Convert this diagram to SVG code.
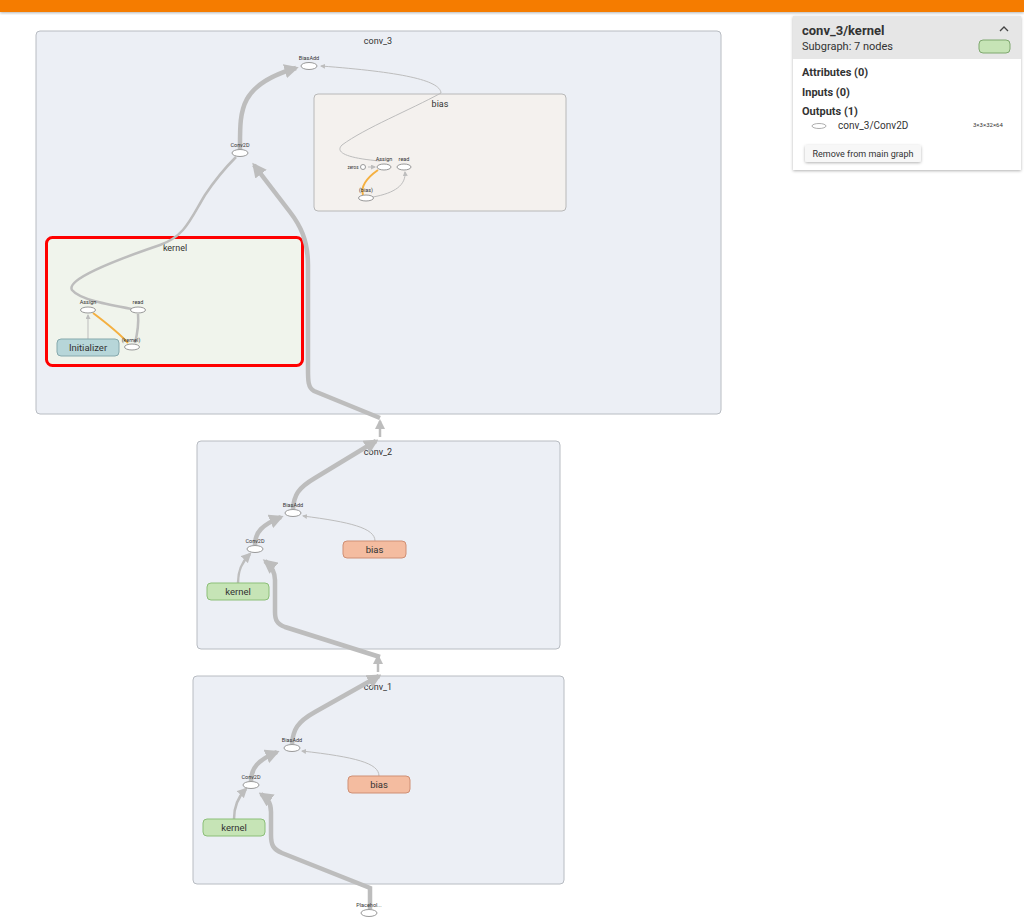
<svg xmlns="http://www.w3.org/2000/svg" width="1024" height="923" viewBox="0 0 1024 923">
<style>
text{font-family:Roboto,"Liberation Sans",sans-serif;fill:#333}
.scope{fill:#eceff5;stroke:#b8bcc2;stroke-width:1}
.title{font-size:9px;text-anchor:middle}
.op{fill:#fff;stroke:#999;stroke-width:1}
.opl{font-size:5.5px;text-anchor:middle}
.thick{fill:none;stroke:#bdbdbd;stroke-width:4.5}
.mid{fill:none;stroke:#bdbdbd;stroke-width:2.5}
.thin{fill:none;stroke:#bdbdbd;stroke-width:1}
.ref{fill:none;stroke:#f4b041;stroke-width:2}
.nl{font-size:9.5px;text-anchor:middle}
</style>
<defs>
<marker id="ab" viewBox="0 0 10 10" refX="8" refY="5" markerWidth="3.2" markerHeight="3.2" orient="auto" markerUnits="strokeWidth"><path d="M0,0L10,5L0,10z" fill="#bdbdbd"/></marker>
<marker id="am" viewBox="0 0 10 10" refX="8" refY="5" markerWidth="4" markerHeight="4" orient="auto" markerUnits="strokeWidth"><path d="M0,0L10,5L0,10z" fill="#bdbdbd"/></marker>
<marker id="as" viewBox="0 0 10 10" refX="8" refY="5" markerWidth="5" markerHeight="5" orient="auto" markerUnits="strokeWidth"><path d="M0,0L10,5L0,10z" fill="#bdbdbd"/></marker>
<filter id="sh" x="-10%" y="-10%" width="120%" height="130%"><feDropShadow dx="0" dy="1" stdDeviation="1.5" flood-opacity="0.3"/></filter>
</defs>
<rect x="0" y="0" width="1024" height="923" fill="#fff"/>
<rect x="0" y="0" width="1024" height="12" fill="#f57c00" filter="url(#sh)"/>

<g id="conv_3">
<rect class="scope" x="36" y="31" width="685" height="383" rx="4"/>
<text class="title" x="378" y="44">conv_3</text>
</g>
<g id="conv_3_bias">
<rect x="314" y="94" width="252" height="117" rx="4" fill="#f4f1ee" stroke="#b8b8b8"/>
<text class="title" x="440" y="107">bias</text>
</g>
<g id="conv_3_kernel">
<rect x="46.5" y="237.5" width="256" height="128" rx="6" fill="#f0f4ec" stroke="#f00" stroke-width="3"/>
<text class="title" x="175" y="251">kernel</text>
</g>
<g id="conv_2">
<rect class="scope" x="197" y="441" width="363" height="208" rx="4"/>
<text class="title" x="378" y="455">conv_2</text>
</g>
<g id="conv_1">
<rect class="scope" x="193" y="676" width="371" height="208" rx="4"/>
<text class="title" x="378" y="690">conv_1</text>
</g>

<g id="edges">
<!-- conv_3 -->
<path class="thick" d="M240,150 C240,110 238,85 296,68" marker-end="url(#ab)"/>
<path class="thin" d="M441,93 C440,80 400,72 321,66" marker-end="url(#as)"/>
<path class="thin" d="M441,93 C410,110 365,128 342,145 C335,152 345,158 380,161"/>
<path class="mid" d="M137,310 C110,305 80,300 72,290 C66,280 110,262 160,245 C185,236 190,220 205,195 C215,180 225,168 236,157"/>
<path class="thick" d="M380,418 L314,391 C308,388 308,380 308,370 L308,265 C308,240 300,225 290,212 L254,165" marker-end="url(#ab)"/>
<path class="thin" d="M368,167 L375,167" marker-end="url(#as)"/>
<path class="ref" d="M378,170 C368,177 360,185 363,195"/>
<path class="thin" d="M373,197 C395,193 406,185 405,172" marker-end="url(#as)"/>
<path class="thin" d="M88,339 L88,315" marker-end="url(#as)"/>
<path class="ref" d="M93,313 C105,322 118,332 128,343"/>
<path class="mid" d="M135,343 C137,335 139,325 138,314"/>
<!-- between conv_3 and conv_2 -->
<path class="mid" d="M380,437 L380,421" marker-end="url(#am)"/>
<!-- conv_2 -->
<path class="thick" d="M293,509 C294,495 298,488 315,478 L376,441" marker-end="url(#ab)"/>
<path class="thick" d="M255,545 C255,532 262,525 281,517" marker-end="url(#ab)"/>
<path class="thin" d="M375,541 C375,528 350,522 303,516" marker-end="url(#as)"/>
<path class="mid" d="M238,583 C238,570 242,562 250,554" marker-end="url(#am)"/>
<path class="thick" d="M380,657 L285,627 C277,624 275,620 275,612 L275,580 C275,570 270,565 265,561" marker-end="url(#ab)"/>
<!-- between conv_2 and conv_1 -->
<path class="mid" d="M378,672 L378,656" marker-end="url(#am)"/>
<!-- conv_1 -->
<path class="thick" d="M292,744 C293,730 297,722 315,712 L379,676" marker-end="url(#ab)"/>
<path class="thick" d="M251,781 C251,768 258,760 277,752" marker-end="url(#ab)"/>
<path class="thin" d="M379,776 C379,763 355,757 302,751" marker-end="url(#as)"/>
<path class="mid" d="M234,819 C234,806 238,797 246,789" marker-end="url(#am)"/>
<path class="thick" d="M370,909 L370,888 L282,853 C273,849 271,845 271,835 L271,812 C271,802 267,798 261,794" marker-end="url(#ab)"/>
</g>

<g id="conv_3_BiasAdd">
<ellipse class="op" cx="309" cy="66" rx="8" ry="3.5"/>
<text class="opl" x="309" y="60">BiasAdd</text>
</g>
<g id="conv_3_Conv2D">
<ellipse class="op" cx="240" cy="153" rx="8" ry="3.5"/>
<text class="opl" x="240" y="147">Conv2D</text>
</g>
<g id="conv_3_bias_zeros">
<circle class="op" cx="363" cy="167" r="2.5"/>
<text x="353" y="169" font-size="4.5" text-anchor="middle">zeros</text>
</g>
<g id="conv_3_bias_Assign">
<ellipse class="op" cx="384" cy="167" rx="7" ry="3"/>
<text class="opl" x="384" y="161">Assign</text>
</g>
<g id="conv_3_bias_read">
<ellipse class="op" cx="404" cy="167" rx="7" ry="3"/>
<text class="opl" x="404" y="161">read</text>
</g>
<g id="conv_3_bias_var">
<ellipse class="op" cx="366" cy="198" rx="7.5" ry="3"/>
<text class="opl" x="366" y="192">(bias)</text>
</g>
<g id="conv_3_kernel_Assign">
<ellipse class="op" cx="88" cy="310" rx="7.5" ry="3"/>
<text class="opl" x="88" y="304">Assign</text>
</g>
<g id="conv_3_kernel_read">
<ellipse class="op" cx="138" cy="310" rx="7.5" ry="3"/>
<text class="opl" x="138" y="304">read</text>
</g>
<g id="conv_3_kernel_var">
<ellipse class="op" cx="132" cy="347" rx="7.5" ry="3"/>
<text class="opl" x="131" y="342">(kernel)</text>
</g>
<g id="conv_3_kernel_Initializer">
<rect x="57" y="339" width="62" height="17" rx="4" fill="#b7d6d9" stroke="#86a9ad"/>
<text class="nl" x="88" y="351">Initializer</text>
</g>

<g id="conv_2_BiasAdd">
<ellipse class="op" cx="293" cy="513" rx="8" ry="3.5"/>
<text class="opl" x="293" y="507">BiasAdd</text>
</g>
<g id="conv_2_Conv2D">
<ellipse class="op" cx="255" cy="549" rx="8" ry="3.5"/>
<text class="opl" x="255" y="543">Conv2D</text>
</g>
<g id="conv_2_bias">
<rect x="343" y="541" width="63" height="17" rx="4" fill="#f4bca0" stroke="#cf8f74"/>
<text class="nl" x="374.5" y="553">bias</text>
</g>
<g id="conv_2_kernel">
<rect x="207" y="583" width="62" height="17" rx="4" fill="#c6e4b6" stroke="#8cbf78"/>
<text class="nl" x="238" y="595">kernel</text>
</g>

<g id="conv_1_BiasAdd">
<ellipse class="op" cx="292" cy="748" rx="8" ry="3.5"/>
<text class="opl" x="292" y="742">BiasAdd</text>
</g>
<g id="conv_1_Conv2D">
<ellipse class="op" cx="251" cy="785" rx="8" ry="3.5"/>
<text class="opl" x="251" y="779">Conv2D</text>
</g>
<g id="conv_1_bias">
<rect x="348" y="776" width="62" height="17" rx="4" fill="#f4bca0" stroke="#cf8f74"/>
<text class="nl" x="379" y="788">bias</text>
</g>
<g id="conv_1_kernel">
<rect x="203" y="819" width="62" height="17" rx="4" fill="#c6e4b6" stroke="#8cbf78"/>
<text class="nl" x="234" y="831">kernel</text>
</g>
<g id="Placeholder">
<ellipse class="op" cx="369" cy="913" rx="8" ry="3.5"/>
<text class="opl" x="369" y="907">Placehol...</text>
</g>

<g id="info_panel">
<rect x="793" y="16" width="228" height="154" fill="#fff" filter="url(#sh)"/>
<rect x="793" y="16" width="228" height="43" fill="#e6e6e6"/>
<text x="802" y="35" font-size="13" font-weight="bold" fill="#222">conv_3/kernel</text>
<text x="802" y="50" font-size="11" fill="#666">Subgraph: 7 nodes</text>
<path d="M1000,31 L1004,27 L1008,31" fill="none" stroke="#444" stroke-width="1.3"/>
<rect x="979" y="40" width="31" height="13" rx="4" fill="#c6e4b6" stroke="#7fa86f"/>
<text x="802" y="76" font-size="11" font-weight="bold" fill="#222">Attributes (0)</text>
<text x="802" y="96" font-size="11" font-weight="bold" fill="#222">Inputs (0)</text>
<text x="802" y="115" font-size="11" font-weight="bold" fill="#222">Outputs (1)</text>
<ellipse cx="819" cy="126" rx="7" ry="2.5" fill="#fff" stroke="#999" stroke-width="0.8"/>
<text x="838" y="129" font-size="10" fill="#444">conv_3/Conv2D</text>
<text x="973" y="127" font-size="6" fill="#444">3×3×32×64</text>
<rect x="805" y="145" width="116" height="17" rx="2" fill="#f7f7f7" filter="url(#sh)"/>
<text x="863" y="157" font-size="9" fill="#444" text-anchor="middle">Remove from main graph</text>
</g>
</svg>
